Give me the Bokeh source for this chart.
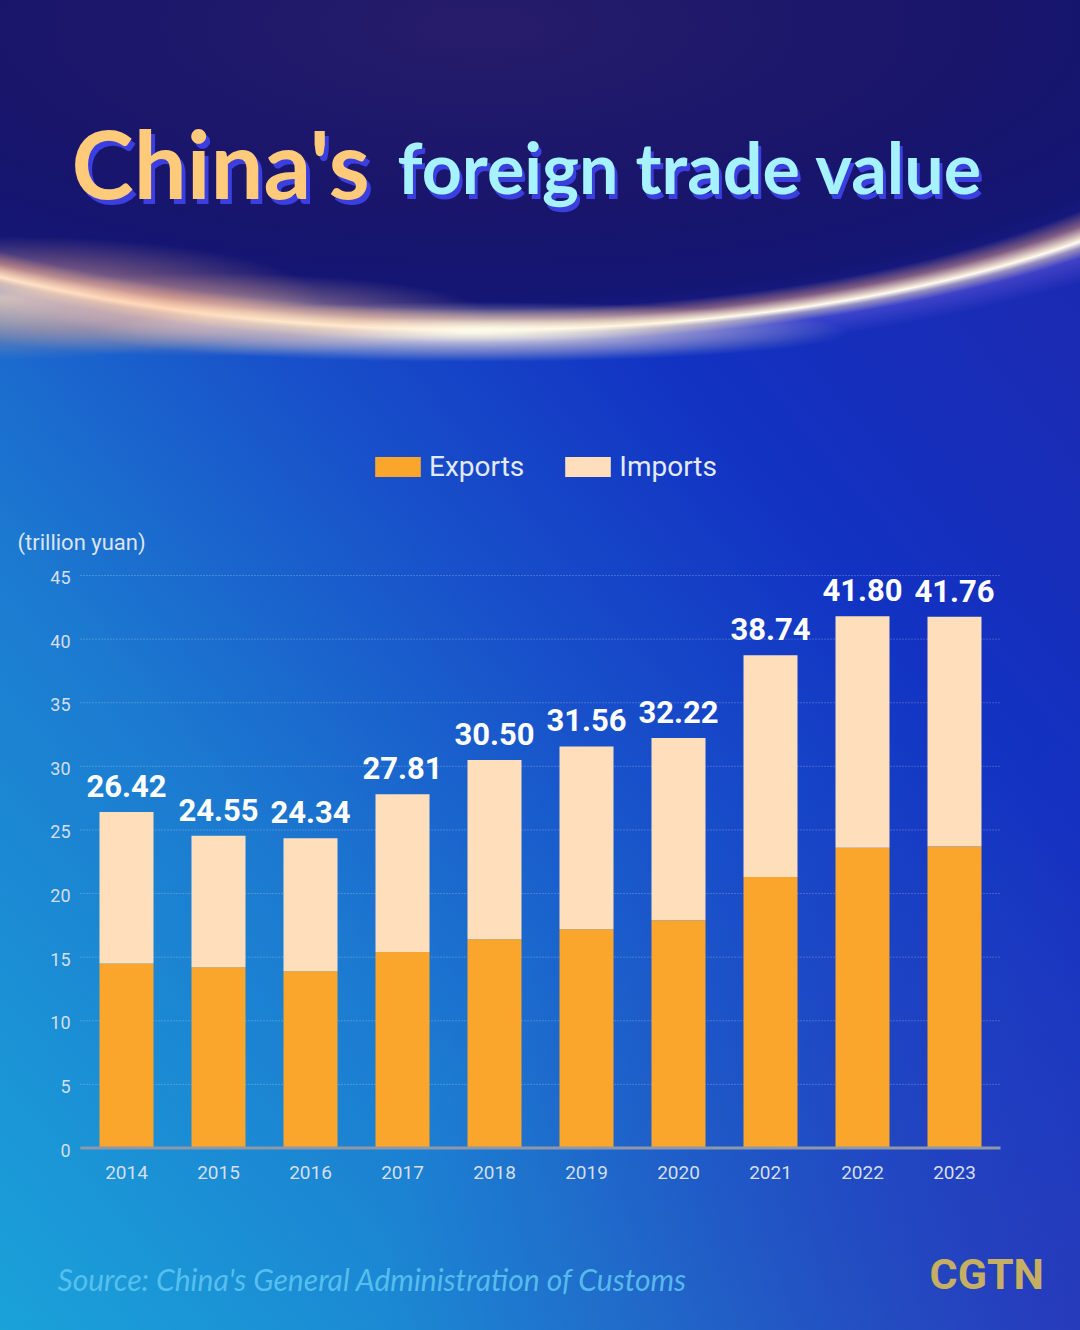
from bokeh.plotting import figure
from bokeh.models import (ColumnDataSource, Legend, LegendItem, Label, FactorRange, Range1d)
from bokeh.core.properties import value
from bokeh.embed import file_html
from bokeh.resources import INLINE

# ---------------- data ----------------
years = ["2014", "2015", "2016", "2017", "2018", "2019", "2020", "2021", "2022", "2023"]
exports = [14.5, 14.2, 13.9, 15.4, 16.4, 17.2, 17.9, 21.3, 23.6, 23.7]
imports = [11.92, 10.35, 10.44, 12.41, 14.10, 14.36, 14.32, 17.44, 18.20, 18.06]
totals = [26.42, 24.55, 24.34, 27.81, 30.50, 31.56, 32.22, 38.74, 41.80, 41.76]
total_labels = ["26.42", "24.55", "24.34", "27.81", "30.50", "31.56", "32.22", "38.74", "41.80", "41.76"]
y_ticks = [0, 5, 10, 15, 20, 25, 30, 35, 40, 45]
y_tick_labels = ["0", "5", "10", "15", "20", "25", "30", "35", "40", "45"]
series_names = ["Exports", "Imports"]
series_colors = ["#FAA62D", "#FFDFBB"]

# ---------------- figure ----------------
W, H = 1080, 1330
# the plotting frame covers the whole canvas; the scales place the chart inside it
x_range = FactorRange(factors=years, range_padding=0.8696, range_padding_units="absolute")
y_range = Range1d(-14.345, 90.197)
p = figure(width=W, height=H, x_range=x_range, y_range=y_range,
           x_axis_location=None, y_axis_location=None,
           output_backend="svg", toolbar_location=None, min_border=0,
           background_fill_color=None, border_fill_color=None,
           outline_line_color=None)
p.grid.grid_line_color = None

layers = [
    "radial-gradient(320px 62px at 0px 298px, rgba(255,215,180,0.75) 0%, rgba(255,178,138,0.35) 55%, rgba(255,178,138,0) 100%)",
    "radial-gradient(280px 42px at 210px 315px, rgba(255,228,195,0.7) 0%, rgba(255,195,155,0.3) 55%, rgba(255,195,155,0) 100%)",
    "radial-gradient(380px 30px at 470px 332px, rgba(255,252,235,0.95) 0%, rgba(255,240,205,0.45) 50%, rgba(255,240,205,0) 100%)",
    "radial-gradient(850px 303px at 480px 27px, rgba(255,255,255,0) 93%, rgba(255,170,130,0.45) 96.5%, rgba(255,236,210,0.9) 99.2%, rgba(255,252,240,1) 100%, rgba(255,225,200,0.55) 101.5%, rgba(170,130,255,0.25) 104%, rgba(120,110,255,0) 110%)",
    "radial-gradient(850px 303px at 480px 27px, #261c6a 0%, #18156b 60%, #141675 90%, #1a1f8a 99.6%, rgba(26,31,138,0) 100%)",
    "radial-gradient(700px 600px at 1080px 1330px, rgba(50,40,175,0.55) 0%, rgba(50,40,175,0) 100%)",
    "linear-gradient(50deg, #1aa2d9 0%, #1c7ad0 30%, #1850ca 50%, #1232c2 68%, #1a2bb4 85%, #2028ac 100%)",
]
p.styles = {"background": ", ".join(layers)}

src = ColumnDataSource(dict(year=years, Exports=exports, Imports=imports,
                            total=totals, label=total_labels))
ticks_src = ColumnDataSource(dict(tick=y_ticks, label=y_tick_labels))
n = len(years)

# gridlines (dotted), spanning the category area
p.segment(x0=0, x1=n, y0="tick", y1="tick", source=ticks_src,
          line_color="#ffffff", line_alpha=0.4, line_dash="1 2", line_width=1)

# stacked bars
rs = p.vbar_stack(series_names, x="year", width=0.587, color=series_colors,
                  line_color=None, source=src)

# x axis line
p.segment(x0=0, x1=n, y0=0, y1=0, line_color="#8f98a8", line_width=3)

# y tick labels
p.text(x=0, y="tick", text="label", source=ticks_src, x_offset=-10, y_offset=2,
       text_align="right", text_baseline="middle", text_color="#d5deec",
       text_font=value("Roboto"), text_font_size="18px")
# x tick labels
p.text(x="year", y=0, text="year", source=src, y_offset=18,
       text_align="center", text_baseline="top", text_color="#d5deec",
       text_font=value("Roboto"), text_font_size="19px")

# total labels
p.text(x="year", y="total", text="label", source=src, y_offset=-26,
       text_color="white", text_font=value("Roboto"), text_font_style="bold",
       text_font_size="31px", text_align="center", text_baseline="alphabetic")

# legend
legend = Legend(items=[LegendItem(label=series_names[i], renderers=[rs[i]]) for i in range(2)],
                orientation="horizontal", location=(369, 847),
                glyph_width=57, glyph_height=25, label_standoff=3, spacing=35,
                padding=0, margin=0, border_line_color=None, background_fill_color=None,
                label_text_color="#e3eaf5", label_text_font="Roboto",
                label_text_font_size="28px")
p.add_layout(legend, "center")


def add_label(text, x, y, **kw):
    p.add_layout(Label(x=x, y=y, x_units="canvas", y_units="canvas", text=text,
                       text_baseline="alphabetic", **kw))


# title with shadow
add_label("China's", 75, 167, text_color="#3b3fe0", text_font="Lato", text_font_style="bold",
          text_font_size="94px")
add_label("China's", 71, 162, text_color="#FFCA7A", text_font="Lato", text_font_style="bold",
          text_font_size="94px")
add_label("foreign trade value", 400, 171, text_color="#3b3fe0", text_font="Lato",
          text_font_style="bold", text_font_size="70px")
add_label("foreign trade value", 397, 166, text_color="#A6F2FF", text_font="Lato",
          text_font_style="bold", text_font_size="70px")

add_label("(trillion yuan)", 17, 542, text_color="#dbe4f0", text_font="Roboto",
          text_font_size="22px")
add_label("Source: China's General Administration of Customs", 57, 1278,
          text_color="#62c8f2", text_alpha=0.85, text_font="Lato", text_font_style="italic",
          text_font_size="30px")
add_label("CGTN", 929, 1273, text_color="#C6AF62", text_font="Roboto", text_font_style="bold",
          text_font_size="43px")

open("out.html", "w").write(file_html(p, INLINE))
